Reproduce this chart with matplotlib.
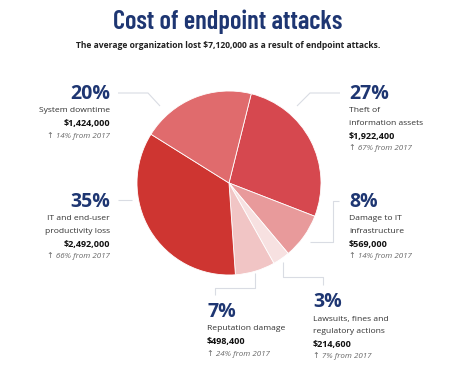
import matplotlib
matplotlib.use("Agg")
import matplotlib.pyplot as plt

# slice order is clockwise, starting just right of 12 o'clock
labels = ["Theft of\ninformation assets", "Damage to IT\ninfrastructure",
          "Lawsuits, fines and\nregulatory actions", "Reputation damage",
          "IT and end-user\nproductivity loss", "System downtime"]
pcts = ["27%", "8%", "3%", "7%", "35%", "20%"]
amounts = [1922400, 569000, 214600, 498400, 2492000, 1424000]
changes = ["67%", "14%", "7%", "24%", "66%", "14%"]
colors = ["#d6484f", "#e89a9b", "#f7e1e1", "#f1c5c5", "#ce3531", "#e06b6d"]

NAVY = "#1e3672"
LINE = "#d9dce3"
H = 376

fig = plt.figure(figsize=(4.7, 3.76), dpi=100)
ax = fig.add_axes([0, 0, 1, 1])
ax.set_xlim(0, 470)
ax.set_ylim(0, H)
ax.set_aspect("equal")
ax.axis("off")

ax.pie(amounts, colors=colors, startangle=76, counterclock=False,
       center=(229, H - 183), radius=92,
       wedgeprops=dict(edgecolor="white", linewidth=0.6))
ax.set_xlim(0, 470)
ax.set_ylim(0, H)

fams = ["Open Sans", "DejaVu Sans"]
title_fam = ["Barlow Condensed", "DejaVu Sans"]

ax.text(228, H - 22, "Cost of endpoint attacks", ha="center", va="center",
        fontsize=19, fontweight="semibold", color=NAVY, family=title_fam)
ax.text(228, H - 46, "The average organization lost $7,120,000 as a result of endpoint attacks.",
        ha="center", va="center", fontsize=6.1, fontweight="bold", color="#222222",
        family=fams)

# leader lines (image pixel coords)
leaders = [
    [(340, 93), (310, 93), (297, 106)],
    [(339, 201), (333, 201), (333, 242), (310, 242)],
    [(283, 262), (283, 277), (323, 277), (323, 285)],
    [(255, 273), (255, 288), (215, 288), (215, 295)],
    [(118, 200), (132, 200)],
    [(118, 93), (148, 93), (160, 106)],
]
for pts in leaders:
    ax.plot([p[0] for p in pts], [H - p[1] for p in pts], color=LINE, lw=0.8,
            solid_capstyle="butt")

# label blocks: x, y of the percentage, alignment
blocks = [(349, 94, "left"), (349, 202, "left"), (313, 302, "left"),
          (207, 312, "left"), (110, 202, "right"), (110, 94, "right")]

step = 12.4
for i, (x, y, ha) in enumerate(blocks):
    ax.text(x, H - y, pcts[i], ha=ha, va="center", fontsize=14,
            fontweight="bold", color=NAVY, family=fams)
    yy = y + 17
    for line in labels[i].split("\n"):
        ax.text(x, H - yy, line, ha=ha, va="center", fontsize=6.1,
                color="#333333", family=fams)
        yy += step
    yy += 0.3
    ax.text(x, H - yy, "${:,}".format(amounts[i]), ha=ha, va="center",
            fontsize=6.5, fontweight="bold", color="#111111", family=fams)
    yy += step
    ax.text(x, H - yy, "\u2191 " + changes[i] + " from 2017", ha=ha, va="center",
            fontsize=5.8, style="italic", color="#666666", family=fams)

fig.savefig("out.png", dpi=100, facecolor="white")
